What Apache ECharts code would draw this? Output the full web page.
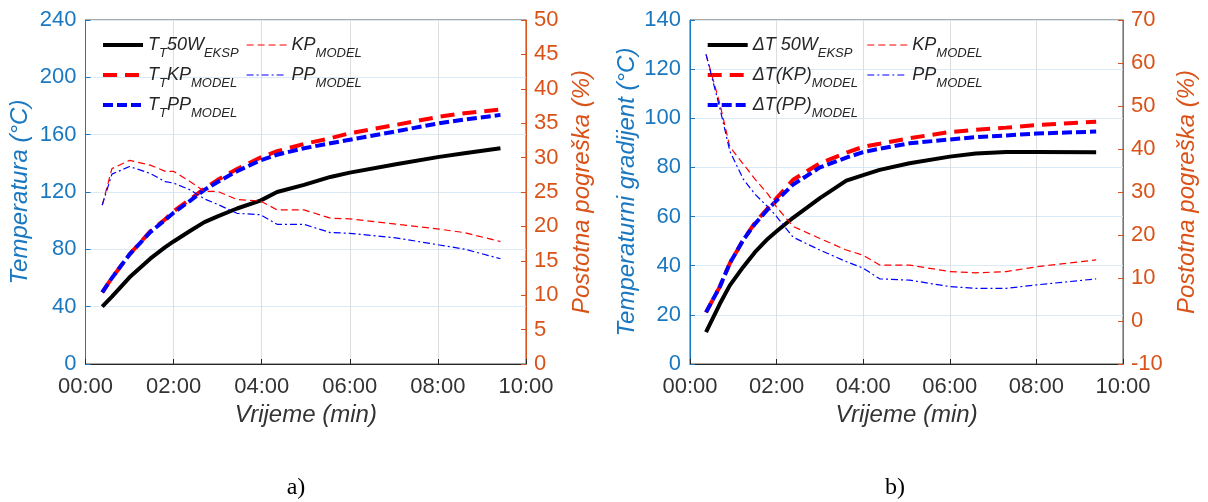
<!DOCTYPE html>
<html><head><meta charset="utf-8">
<script src="https://cdn.jsdelivr.net/npm/echarts@6/dist/echarts.min.js"></script>
<style>html,body{margin:0;padding:0;background:#fff}#c{width:1208px;height:502px}</style>
</head><body><div id="c"></div>
<script>
// ---------- DATA ----------
const timeA = [0.38, 0.6, 1.0, 1.47, 1.81, 2.0, 2.38, 2.7, 3.0, 3.44, 3.97, 4.35, 4.96, 5.56, 6.0, 7.08, 8.03, 8.6, 9.42];
const tt50wA = [40, 47, 60.5, 73.5, 81.5, 85.5, 93, 99, 103, 108.5, 114, 120, 125, 130.5, 133.5, 139.5, 144.5, 147, 150.5];
const ttKpA = [50, 60, 76.5, 92.5, 101, 106.5, 115, 122.5, 128.5, 136, 144, 148.5, 153.5, 157.5, 161, 167, 172.5, 175, 177.5];
const ttPpA = [50, 60, 76.5, 92, 100.5, 105.5, 114, 121.5, 127, 134.5, 142, 146, 150.5, 154, 156.5, 162.5, 168, 170.5, 173.8];
const errKpA = [23.1, 28.4, 29.6, 28.9, 28.0, 28.0, 26.5, 25.1, 25.1, 23.9, 23.7, 22.4, 22.4, 21.2, 21.1, 20.3, 19.6, 19.1, 17.8];
const errPpA = [23.1, 27.6, 28.7, 27.7, 26.5, 26.3, 25.3, 24.0, 23.2, 21.9, 21.7, 20.3, 20.3, 19.1, 19.0, 18.3, 17.3, 16.7, 15.3];

const timeB = [0.37, 0.69, 0.92, 1.23, 1.5, 1.8, 2.0, 2.38, 3.0, 3.61, 4.0, 4.38, 5.07, 6.0, 6.6, 7.3, 8.0, 9.38];
const dt50wB = [13, 24.5, 32, 39.5, 45.5, 51, 54, 59.5, 67.5, 74.6, 76.9, 79, 81.7, 84.4, 85.7, 86.3, 86.3, 86.2];
const dtKpB = [21, 31.5, 41, 50.5, 57.5, 63.5, 67.5, 75, 81.7, 86, 88.4, 89.6, 91.9, 94.4, 95.3, 96.2, 97.2, 98.6];
const dtPpB = [21, 31.5, 41, 50.5, 57, 63, 66.5, 73, 80, 84, 86.2, 87.6, 89.8, 91.4, 92.3, 93, 93.8, 94.6];
const errKpB = [62, 50.5, 40.5, 36.5, 33, 29.5, 26.5, 22, 19.2, 16.5, 15.3, 13.0, 13.0, 11.5, 11.2, 11.5, 12.6, 14.2];
const errPpB = [62, 49.5, 39.5, 33, 29.5, 26.5, 24.3, 19.5, 16.5, 13.8, 12.3, 9.8, 9.5, 8.0, 7.6, 7.6, 8.4, 9.8];

// legend labels (rich text: m = main, s = subscript)
const legendLabels = {
  TT50W: '{m|T}{s|T}{m|50W}{s|EKSP}',
  TTKP: '{m|T}{s|T}{m|KP}{s|MODEL}',
  TTPP: '{m|T}{s|T}{m|PP}{s|MODEL}',
  KPa: '{m|KP}{s|MODEL}',
  PPa: '{m|PP}{s|MODEL}',
  DT50W: '{m|ΔT 50W}{s|EKSP}',
  DTKP: '{m|ΔT(KP)}{s|MODEL}',
  DTPP: '{m|ΔT(PP)}{s|MODEL}',
  KPb: '{m|KP}{s|MODEL}',
  PPb: '{m|PP}{s|MODEL}'
};

// ---------- STYLE ----------
const FONT = '"Liberation Sans", Arial, sans-serif';
const BLUE = '#1a78c0';
const ORANGE = '#d95319';
const DARK = '#333333';
const pair = (t, v) => t.map((x, i) => [x, v[i]]);
const fmtTime = v => (v < 10 ? '0' : '') + v + ':00';

function ser(name, xi, yi, data, color, width, type, z) {
  return { name, type: 'line', xAxisIndex: xi, yAxisIndex: yi, data, symbol: 'none', showSymbol: false,
    lineStyle: { color, width, type }, itemStyle: { color }, z, animation: false, silent: true };
}

function xAx(gi) {
  return { gridIndex: gi, type: 'value', min: 0, max: 10, interval: 2,
    name: 'Vrijeme (min)', nameLocation: 'middle', nameGap: 39,
    nameTextStyle: { color: DARK, fontSize: 24, fontStyle: 'italic', fontFamily: FONT },
    axisLine: { show: true, onZero: false, lineStyle: { color: '#262626' } },
    axisTick: { show: true, inside: true, length: 5, lineStyle: { color: '#262626' } },
    axisLabel: { formatter: fmtTime, color: DARK, fontSize: 22, margin: 12, fontFamily: FONT },
    splitLine: { show: true, lineStyle: { color: '#dedede' } } };
}
function yAx(gi, pos, min, max, interval, name, color, gap, grid) {
  return { gridIndex: gi, type: 'value', position: pos, min, max, interval,
    name, nameLocation: 'middle', nameGap: gap,
    nameTextStyle: { color, fontSize: 24, fontStyle: 'italic', fontFamily: FONT },
    axisLine: { show: true, onZero: false, lineStyle: { color } },
    axisTick: { show: true, inside: true, length: 5, lineStyle: { color } },
    axisLabel: { color, fontSize: 22, margin: pos === 'left' ? 9 : 8, fontFamily: FONT },
    splitLine: { show: grid, lineStyle: { color: '#d9e9f5' } } };
}
const rich = {
  m: { fontSize: 18, fontStyle: 'italic', fontFamily: FONT, color: '#262626', lineHeight: 30 },
  s: { fontSize: 13, fontStyle: 'italic', fontFamily: FONT, color: '#262626', lineHeight: 4, verticalAlign: 'bottom' }
};
function leg(data, left, w) {
  return { data, left, top: 36, orient: 'vertical', itemWidth: 40, itemHeight: 14, itemGap: 6, padding: 0,
    selectedMode: false, lineStyle: { width: w },
    itemStyle: { color: 'transparent', borderColor: 'transparent', borderWidth: 0, opacity: 0 },
    formatter: n => legendLabels[n], textStyle: { rich } };
}

const option = {
  animation: false,
  grid: [
    { left: 85.5, top: 20, width: 440.5, height: 344, show: true, borderColor: '#555', borderWidth: 1 },
    { left: 690, top: 20, width: 433, height: 344, show: true, borderColor: '#555', borderWidth: 1 }
  ],
  xAxis: [xAx(0), xAx(1)],
  yAxis: [
    yAx(0, 'left', 0, 240, 40, 'Temperatura (°C)', BLUE, 53, true),
    yAx(0, 'right', 0, 50, 5, 'Postotna pogreška (%)', ORANGE, 44, false),
    yAx(1, 'left', 0, 140, 20, 'Temperaturni gradijent (°C)', BLUE, 51, true),
    yAx(1, 'right', -10, 70, 10, 'Postotna pogreška (%)', ORANGE, 52, false)
  ],
  legend: [
    leg(['TT50W', 'TTKP', 'TTPP'], 101, 4),
    leg(['KPa', 'PPa'], 246, 1.2),
    leg(['DT50W', 'DTKP', 'DTPP'], 705.7, 4),
    leg(['KPb', 'PPb'], 866.7, 1.2)
  ],
  series: [
    ser('TT50W', 0, 0, pair(timeA, tt50wA), '#000000', 4, 'solid', 2),
    ser('TTKP', 0, 0, pair(timeA, ttKpA), '#ff0000', 4, [14, 8], 3),
    ser('TTPP', 0, 0, pair(timeA, ttPpA), '#0000ff', 4, [10, 4], 4),
    ser('KPa', 0, 1, pair(timeA, errKpA), '#ff0000', 1.2, [7, 4], 5),
    ser('PPa', 0, 1, pair(timeA, errPpA), '#0000ff', 1.2, [7, 3, 2, 3], 6),
    ser('DT50W', 1, 2, pair(timeB, dt50wB), '#000000', 4, 'solid', 2),
    ser('DTKP', 1, 2, pair(timeB, dtKpB), '#ff0000', 4, [14, 8], 3),
    ser('DTPP', 1, 2, pair(timeB, dtPpB), '#0000ff', 4, [10, 4], 4),
    ser('KPb', 1, 3, pair(timeB, errKpB), '#ff0000', 1.2, [7, 4], 5),
    ser('PPb', 1, 3, pair(timeB, errPpB), '#0000ff', 1.2, [7, 3, 2, 3], 6)
  ],
  graphic: [
    { type: 'text', x: 296, y: 488, style: { text: 'a)', fontSize: 24, fontFamily: '"Liberation Serif", "Times New Roman", serif', fill: '#000', align: 'center', verticalAlign: 'middle' } },
    { type: 'text', x: 895, y: 488, style: { text: 'b)', fontSize: 24, fontFamily: '"Liberation Serif", "Times New Roman", serif', fill: '#000', align: 'center', verticalAlign: 'middle' } }
  ]
};
const chart = echarts.init(document.getElementById('c'), null, { renderer: 'canvas' });
chart.setOption(option);
</script>
</body></html>
